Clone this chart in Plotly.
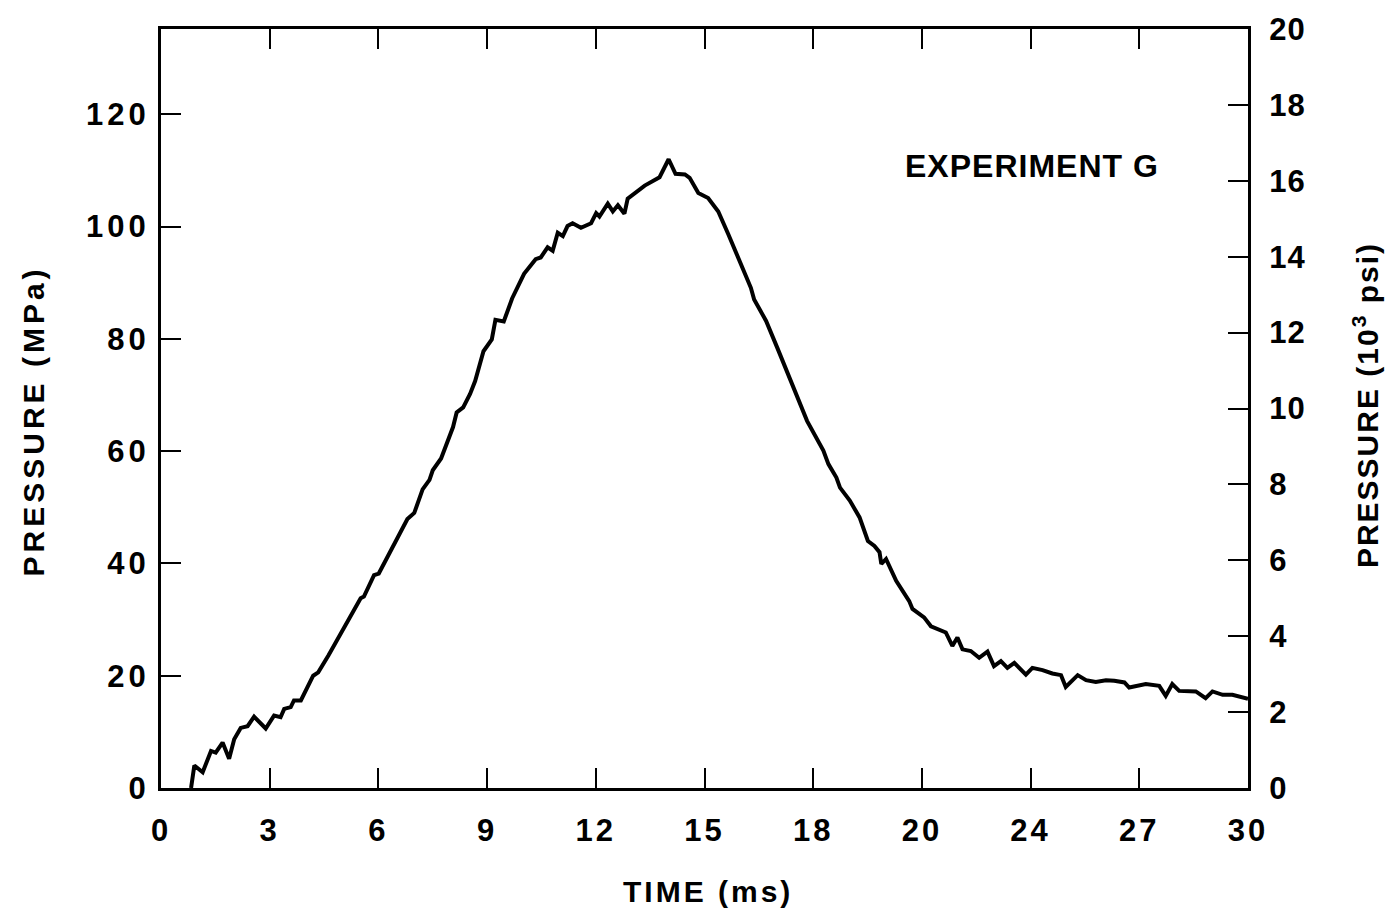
import plotly.graph_objects as go

# ---- data ----
time_ms = [0.83, 0.92, 1.15, 1.38, 1.51, 1.70, 1.88, 2.02, 2.20, 2.39, 2.57, 2.89, 3.12, 3.30, 3.40, 3.58, 3.67, 3.86,
           4.20, 4.34, 4.62, 4.90, 5.17, 5.51, 5.60, 5.88, 6.01, 6.38, 6.57, 6.80, 6.99, 7.22, 7.41, 7.50, 7.73, 7.88,
           8.06, 8.16, 8.34, 8.53, 8.67, 8.90, 9.13, 9.23, 9.46, 9.69, 10.02, 10.34, 10.48, 10.67, 10.81, 10.95, 11.09,
           11.22, 11.36, 11.59, 11.87, 12.01, 12.10, 12.33, 12.47, 12.61, 12.79, 12.88, 13.35, 13.76, 14.01, 14.20,
           14.46, 14.59, 14.83, 15.10, 15.38, 15.66, 15.92, 16.28, 16.37, 16.70, 17.01, 17.55, 17.83, 18.28, 18.42,
           18.64, 18.74, 19.01, 19.28, 19.51, 19.69, 19.83, 19.88, 20.01, 20.29, 20.65, 20.74, 21.06, 21.25, 21.66,
           21.84, 21.98, 22.12, 22.35, 22.58, 22.81, 22.99, 23.18, 23.36, 23.55, 23.87, 24.05, 24.33, 24.60, 24.84,
           24.97, 25.30, 25.53, 25.80, 26.08, 26.31, 26.59, 26.72, 27.18, 27.55, 27.73, 27.91, 28.10, 28.56, 28.83,
           29.02, 29.30, 29.57, 30.0]
pressure_mpa = [0, 4.0, 2.8, 6.6, 6.3, 8.1, 5.2, 8.7, 10.7, 11.0, 12.7, 10.6, 12.9, 12.6, 14.1, 14.4, 15.6, 15.6,
                20.0, 20.6, 23.6, 26.8, 30.0, 33.8, 34.1, 37.9, 38.2, 42.6, 45.0, 47.9, 49.0, 53.2, 54.9, 56.6, 58.7,
                61.4, 64.3, 66.9, 67.8, 70.2, 72.5, 77.8, 79.9, 83.4, 83.1, 87.2, 91.6, 94.2, 94.5, 96.3, 95.7, 98.9,
                98.3, 100.1, 100.6, 99.8, 100.6, 102.4, 101.8, 104.1, 102.7, 103.8, 102.3, 105.0, 107.3, 108.8, 112.0,
                109.4, 109.3, 108.7, 106.0, 105.1, 102.7, 98.6, 94.5, 89.1, 87.0, 83.2, 78.4, 69.6, 65.4, 60.1, 57.7,
                55.3, 53.5, 51.2, 48.2, 44.0, 43.1, 42.0, 39.9, 40.8, 36.9, 33.3, 31.9, 30.4, 28.8, 27.7, 25.3, 26.8,
                24.7, 24.4, 23.2, 24.3, 21.7, 22.6, 21.4, 22.3, 20.2, 21.4, 21.0, 20.4, 20.1, 18.0, 20.1, 19.2, 18.9,
                19.2, 19.1, 18.8, 17.9, 18.5, 18.2, 16.4, 18.5, 17.3, 17.2, 16.0, 17.2, 16.6, 16.6, 15.9]

x_tickvals = [0, 3, 6, 9, 12, 15, 18, 21, 24, 27, 30]
x_ticktext = ["0", "3", "6", "9", "12", "15", "18", "20", "24", "27", "30"]
y_mpa_ticks = [0, 20, 40, 60, 80, 100, 120]
y_psi_ticks = [0, 2, 4, 6, 8, 10, 12, 14, 16, 18, 20]


def spaced(s, px):
    return f'<span style="letter-spacing:{px}px">{s}</span>'


FONT = "Liberation Sans, Arial, Helvetica, sans-serif"
tickfont = dict(family=FONT, size=31, color="black", weight="bold")
titlefont = dict(family=FONT, size=30, color="black", weight="bold")

fig = go.Figure()
fig.add_trace(go.Scatter(x=time_ms, y=pressure_mpa, mode="lines",
                         line=dict(color="black", width=4), hoverinfo="skip", showlegend=False))
fig.add_trace(go.Scatter(x=[None], y=[None], yaxis="y2", showlegend=False, hoverinfo="skip"))

axis_common = dict(ticks="inside", ticklen=20, tickwidth=2, tickcolor="black",
                   showline=True, linewidth=3, linecolor="black",
                   showgrid=False, zeroline=False, tickfont=tickfont)

fig.update_layout(
    width=1400, height=916,
    margin=dict(l=161, r=152, t=24, b=128),
    paper_bgcolor="white", plot_bgcolor="white",
    showlegend=False,
    xaxis=dict(range=[0, 30], tickvals=x_tickvals, ticktext=[spaced(t, 3) for t in x_ticktext], mirror="ticks",
               ticklabelstandoff=13, **axis_common),
    yaxis=dict(range=[0, 135.2], tickvals=y_mpa_ticks, ticktext=[spaced(str(v), 4) for v in y_mpa_ticks],
               ticklabelstandoff=2, **axis_common),
    yaxis2=dict(range=[0, 20], tickvals=y_psi_ticks, ticktext=[spaced(str(v), 1) for v in y_psi_ticks],
                overlaying="y", side="right", ticklabelstandoff=12, **axis_common),
)

fig.add_annotation(text=spaced("TIME (ms)", 3), xref="paper", yref="paper",
                   x=0.503, y=-0.137, showarrow=False, font=titlefont, xanchor="center", yanchor="middle")
fig.add_annotation(text=spaced("PRESSURE (MPa)", 4), xref="paper", yref="paper",
                   x=-0.117, y=0.484, showarrow=False, font=titlefont, textangle=-90,
                   xanchor="center", yanchor="middle")
fig.add_annotation(text=spaced("PRESSURE (10<sup>3</sup> psi)", 2), xref="paper",
                   yref="paper", x=1.108, y=0.505, showarrow=False, font=titlefont, textangle=-90,
                   xanchor="center", yanchor="middle")
fig.add_annotation(text=spaced("EXPERIMENT G", 1), xref="paper", yref="paper",
                   x=0.801, y=0.819, showarrow=False, font=dict(family=FONT, size=32, color="black", weight="bold"),
                   xanchor="center", yanchor="middle")

fig.write_html("out.html")
